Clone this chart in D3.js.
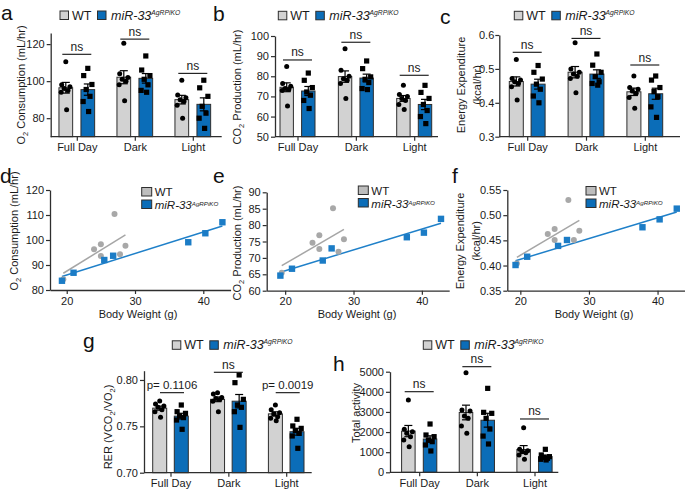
<!DOCTYPE html>
<html><head><meta charset="utf-8">
<script src="https://cdn.jsdelivr.net/npm/d3@7"></script>
<style>
html,body{margin:0;padding:0;background:#fff;}
svg{display:block;}
</style></head><body>
<svg id="fig" width="685" height="492"></svg>
<script>
// ---------------- DATA ----------------
const groups = ["Full Day", "Dark", "Light"];
const seriesNames = ["WT", "miR-33"];
const supText = "AgRPiKO";

// (a) O2 consumption, per group: individual mice
const o2WT = [[110.5,98,97,96,95,94,84.5],[120.4,104,102,101,100,98,89.4],[100.5,92.5,91,90,89,87,80]];
const o2KO = [[106.9,103,98.2,95.5,91.8,89,83.6],[113.6,106,103,101,98,95,94],[100.5,96.4,91.8,86.4,82.7,80,74.5]];
// (b) CO2 production
const co2WT = [[84.9,76.4,75,73.9,73.4,73,65.2],[93.7,83,80,78.8,78,76.4,69],[75.5,71,70,69,68,66,63.5]];
const co2KO = [[81.6,78,74.4,72.2,70.6,68,64],[87.6,83.8,79.7,78.5,76.9,73.9,73.4],[75.5,72,69,66,63,60,56.5]];
// (c) Energy expenditure
const eeWT = [[0.528,0.472,0.467,0.462,0.457,0.447,0.408],[0.577,0.50,0.49,0.485,0.478,0.472,0.43],[0.479,0.445,0.44,0.435,0.428,0.416,0.384]];
const eeKO = [[0.51,0.49,0.47,0.455,0.44,0.42,0.40],[0.544,0.511,0.49,0.477,0.462,0.457,0.452],[0.479,0.467,0.445,0.433,0.418,0.388,0.357]];
// (g) RER
const rerWT = [[0.7773,0.774,0.772,0.7705,0.768,0.7658,0.7597],[0.7863,0.7849,0.781,0.780,0.779,0.777,0.7658],[0.773,0.768,0.7647,0.7633,0.7604,0.7586,0.7561]];
const rerKO = [[0.773,0.7658,0.764,0.7612,0.7594,0.7568,0.7468],[0.8054,0.7971,0.7791,0.773,0.7705,0.7658,0.7489],[0.7576,0.7504,0.7478,0.7453,0.7424,0.7396,0.7263]];
// (h) Total activity
const actWT = [[3593,2136,2020,1937,1772,1606,1275],[4950,3096,3046,2798,2682,2301,1937],[2219,1142,1076,1026,977,861,646]];
const actKO = [[2400,1854,1772,1606,1523,1358,1060],[4172,2980,2930,2682,2150,1800,1407],[1142,861,778,745,695,646,613]];

// significance annotations (level in data units, label)
const sigA = [114.5, 122.7, 104.2];
const sigB = [88.1, 96.9, 80.5];
const sigC = [0.549, 0.590, 0.5115];
const sigG = [0.7863, 0.8083, 0.7863];
const sigH = [4006, 5249, 2650];
const nsLabels = ["ns", "ns", "ns"];
const sigGLabels = ["p= 0.1106", "ns", "p= 0.0019"];

// (d,e,f) body weight regressions
const bodyWT = [19.5, 24.0, 25.0, 25.0, 27.0, 27.8, 28.6];
const bodyKO = [19.3, 21.0, 25.5, 26.8, 37.8, 40.3, 42.8];
const o2BwWT = [84.3, 96.3, 98.3, 93.6, 110.4, 94.3, 97.7];
const o2BwKO = [83.7, 86.9, 92.0, 93.7, 99.1, 102.7, 107.1];
const co2BwWT = [65.5, 74.6, 76.9, 72.7, 85.1, 71.9, 75.7];
const co2BwKO = [64.6, 66.7, 69.2, 72.9, 76.3, 77.7, 81.9];
const eeBwWT = [0.404, 0.4626, 0.4725, 0.4507, 0.530, 0.4507, 0.469];
const eeBwKO = [0.401, 0.4175, 0.439, 0.4507, 0.476, 0.4917, 0.513];

// tick values
const ticksA = [80, 100, 120];
const ticksB = [50, 60, 70, 80, 90, 100];
const ticksC = [0.3, 0.4, 0.5, 0.6];
const ticksG = [0.70, 0.75, 0.80];
const ticksH = [0, 1000, 2000, 3000, 4000, 5000];
const ticksD = [80, 90, 100, 110, 120];
const ticksE = [60, 65, 70, 75, 80, 85, 90];
const ticksF = [0.35, 0.40, 0.45, 0.50, 0.55];
const ticksBW = [20, 30, 40];

// ---------------- STYLE ----------------
const FONT = "'Liberation Sans', Arial, Helvetica, sans-serif";
const AX = "#2e2e2e";
const WT_FILL = "#d2d2d2", KO_FILL = "#0b6db8";
const WT_PT = "#a8a8a8", KO_PT = "#1b7cc6";
const WT_LINE = "#a6a6a6", KO_LINE = "#1f80c9";
const jitter = [0, -0.3, 0.3, -0.12, 0.16, -0.34, 0.06];

const svg = d3.select("#fig").attr("font-family", FONT);

function rich(textSel, parts, size) {
  let prevSub = false;
  parts.forEach(p => {
    const sub = Array.isArray(p);
    const str = sub ? p[0] : p;
    const t = textSel.append("tspan").text(str);
    if (sub) { t.attr("font-size", size * 0.68).attr("dy", 3); prevSub = true; }
    else if (prevSub) { t.attr("dy", -3); prevSub = false; }
  });
}

function yLabel(x, y, parts, size) {
  const t = svg.append("text")
    .attr("transform", `translate(${x},${y}) rotate(-90)`)
    .attr("text-anchor", "middle").attr("font-size", size).attr("fill", "#1a1a1a");
  rich(t, parts, size);
}

function panelLabel(txt, x, y) {
  svg.append("text").attr("x", x).attr("y", y).attr("font-size", 21).attr("fill", "#111").text(txt);
}

function koText(sel, size, raise) {
  sel.append("tspan").attr("font-style", "italic").text(seriesNames[1]);
  sel.append("tspan").attr("font-style", "italic").attr("font-size", size * 0.54).attr("dy", -raise).text(supText);
}

function barLegend(lx, ly) {
  const g = svg.append("g");
  g.append("rect").attr("x", lx).attr("y", ly - 8.5).attr("width", 8.5).attr("height", 8.5)
    .attr("fill", WT_FILL).attr("stroke", AX).attr("stroke-width", 1);
  g.append("text").attr("x", lx + 12).attr("y", ly).attr("font-size", 12.5).attr("fill", "#1a1a1a").text(seriesNames[0]);
  g.append("rect").attr("x", lx + 37.5).attr("y", ly - 8.5).attr("width", 8.5).attr("height", 8.5)
    .attr("fill", KO_FILL).attr("stroke", AX).attr("stroke-width", 1);
  koText(g.append("text").attr("x", lx + 51).attr("y", ly).attr("font-size", 12.5).attr("fill", "#1a1a1a"), 12.5, 5);
}

function styleAxis(ax) {
  ax.selectAll("path.domain").attr("stroke", AX).attr("stroke-width", 1.3);
  ax.selectAll(".tick line").attr("stroke", AX).attr("stroke-width", 1.2);
  ax.selectAll(".tick text").attr("fill", "#1a1a1a").attr("font-size", 11).attr("font-family", FONT);
  ax.attr("font-family", FONT);
}

function barPanel(cfg) {
  const g = svg.append("g");
  const x = d3.scalePoint().domain(groups).range(cfg.centers);
  const y = d3.scaleLinear().domain(cfg.yDomain).range(cfg.yRange);
  const bottom = cfg.yRange[0];
  const data = [cfg.wt, cfg.ko];
  const fills = [WT_FILL, KO_FILL];
  const offs = [-cfg.off, cfg.off];
  const bw = cfg.bw;

  groups.forEach((grp, gi) => {
    data.forEach((ser, si) => {
      const vals = ser[gi];
      const m = d3.mean(vals);
      const sem = d3.deviation(vals) / Math.sqrt(vals.length);
      const cx = x(grp) + offs[si];
      g.append("rect").attr("x", cx - bw / 2).attr("y", y(m)).attr("width", bw).attr("height", bottom - y(m))
        .attr("fill", fills[si]).attr("stroke", AX).attr("stroke-width", 1);
      vals.forEach((v, k) => {
        const px = cx + jitter[k % jitter.length] * bw;
        if (si === 0) g.append("circle").attr("cx", px).attr("cy", y(v)).attr("r", 2.5).attr("fill", "#000");
        else g.append("rect").attr("x", px - 2.6).attr("y", y(v) - 2.6).attr("width", 5.2).attr("height", 5.2).attr("fill", "#000");
      });
      const eb = g.append("g").attr("stroke", "#000").attr("stroke-width", 1.2);
      eb.append("line").attr("x1", cx).attr("x2", cx).attr("y1", y(m - sem)).attr("y2", y(m + sem));
      eb.append("line").attr("x1", cx - 4).attr("x2", cx + 4).attr("y1", y(m + sem)).attr("y2", y(m + sem));
      eb.append("line").attr("x1", cx - 4).attr("x2", cx + 4).attr("y1", y(m - sem)).attr("y2", y(m - sem));
    });
    const lab = cfg.sigLabels[gi];
    const isP = lab.startsWith("p");
    const half = isP ? 12 : 14.5;
    const c = x(grp) + (isP ? 1.5 : 0);
    const ly = y(cfg.sig[gi]);
    g.append("line").attr("x1", c - half).attr("x2", c + half).attr("y1", ly).attr("y2", ly)
      .attr("stroke", "#111").attr("stroke-width", 1.1);
    g.append("text").attr("x", c).attr("y", ly - 3.5).attr("text-anchor", "middle")
      .attr("font-size", isP ? 11.5 : 12).attr("fill", "#1a1a1a").text(lab);
  });

  const yAx = g.append("g").attr("transform", `translate(${cfg.axisX[0]},0)`)
    .call(d3.axisLeft(y).tickValues(cfg.yTicks).tickSize(4).tickSizeOuter(0).tickPadding(cfg.pad || 2).tickFormat(d3.format(cfg.fmt)));
  styleAxis(yAx);
  const xAx = g.append("g").attr("transform", `translate(0,${bottom})`)
    .call(d3.axisBottom(x).tickSize(4).tickPadding(3));
  xAx.select("path.domain").attr("d", `M${cfg.axisX[0]},0H${cfg.axisX[1]}`);
  styleAxis(xAx);

  barLegend(cfg.legend[0], cfg.legend[1]);
}

function regression(xs, ys) {
  const mx = d3.mean(xs), my = d3.mean(ys);
  const sxy = d3.sum(xs, (v, i) => (v - mx) * (ys[i] - my));
  const sxx = d3.sum(xs, v => (v - mx) * (v - mx));
  const b = sxy / sxx;
  return v => my + b * (v - mx);
}

function scatterPanel(cfg) {
  const g = svg.append("g");
  const x = d3.scaleLinear().domain(cfg.xDomain).range(cfg.xRange);
  const y = d3.scaleLinear().domain(cfg.yDomain).range(cfg.yRange);
  const sets = [
    { xs: bodyWT, ys: cfg.wt, line: WT_LINE, pt: WT_PT, shape: "c" },
    { xs: bodyKO, ys: cfg.ko, line: KO_LINE, pt: KO_PT, shape: "s" }
  ];
  sets.forEach(s => {
    const f = regression(s.xs, s.ys);
    const x0 = d3.min(s.xs), x1 = d3.max(s.xs);
    g.append("line").attr("x1", x(x0)).attr("x2", x(x1)).attr("y1", y(f(x0))).attr("y2", y(f(x1)))
      .attr("stroke", s.line).attr("stroke-width", 1.5);
  });
  sets.forEach(s => {
    s.xs.forEach((v, i) => {
      if (s.shape === "c") g.append("circle").attr("cx", x(v)).attr("cy", y(s.ys[i])).attr("r", 3).attr("fill", s.pt);
      else g.append("rect").attr("x", x(v) - 3.2).attr("y", y(s.ys[i]) - 3.2).attr("width", 6.4).attr("height", 6.4).attr("fill", s.pt);
    });
  });
  const yAx = g.append("g").attr("transform", `translate(${cfg.xRange[0]},0)`)
    .call(d3.axisLeft(y).tickValues(cfg.yTicks).tickSize(4).tickSizeOuter(0).tickPadding(2).tickFormat(d3.format(cfg.fmt)));
  styleAxis(yAx);
  const xAx = g.append("g").attr("transform", `translate(0,${cfg.yRange[0]})`)
    .call(d3.axisBottom(x).tickValues(ticksBW).tickSize(4).tickSizeOuter(0).tickPadding(3).tickFormat(d3.format("d")));
  styleAxis(xAx);
  svg.append("text").attr("x", cfg.xlab[0]).attr("y", cfg.xlab[1]).attr("text-anchor", "middle")
    .attr("font-size", 11).attr("fill", "#1a1a1a").text("Body Weight (g)");
  const [sx, sy] = cfg.legend;
  const lg = svg.append("g");
  lg.append("rect").attr("x", sx).attr("y", sy).attr("width", 10).attr("height", 8.5)
    .attr("fill", "#bdbdbd").attr("stroke", AX).attr("stroke-width", 1);
  lg.append("rect").attr("x", sx).attr("y", sy + 12.5).attr("width", 10).attr("height", 8.5)
    .attr("fill", KO_FILL).attr("stroke", AX).attr("stroke-width", 1);
  lg.append("text").attr("x", sx + 13).attr("y", sy + 8.6).attr("font-size", 11.5).attr("fill", "#1a1a1a").text(seriesNames[0]);
  koText(lg.append("text").attr("x", sx + 13).attr("y", sy + 21.6).attr("font-size", 11.5).attr("fill", "#1a1a1a"), 11.5, 2.8);
}

// ---------------- PANELS ----------------
const o2Label = ["O", ["2"], " Consumption (mL/hr)"];
const co2Label = ["CO", ["2"], " Production (mL/hr)"];

barPanel({ wt: o2WT, ko: o2KO, axisX: [50.7, 221.7], centers: [76.8, 192.8], off: 11, bw: 13.7,
  yDomain: [70, 126], yRange: [136.7, 33], yTicks: ticksA, fmt: "d", sig: sigA, sigLabels: nsLabels, legend: [60, 19.5] });
panelLabel("a", 1, 20);
yLabel(25, 85, o2Label, 11);

barPanel({ wt: co2WT, ko: co2KO, axisX: [275, 438], centers: [297.5, 414.2], off: 10.8, bw: 13.4,
  yDomain: [50, 100], yRange: [136.7, 36], yTicks: ticksB, fmt: "d", sig: sigB, sigLabels: nsLabels, legend: [278.3, 19.8] });
panelLabel("b", 213, 21);
yLabel(241, 87, co2Label, 11);

barPanel({ wt: eeWT, ko: eeKO, axisX: [499.3, 680], centers: [527.2, 644.8], off: 10.9, bw: 14,
  yDomain: [0.3, 0.6], yRange: [136.7, 35], yTicks: ticksC, fmt: ".1f", sig: sigC, sigLabels: nsLabels, legend: [514.3, 19.8], pad: 1 });
panelLabel("c", 440, 24);
yLabel(465, 85, ["Energy Expenditure"], 11);
yLabel(480.5, 85, ["(kcal/hr)"], 11);

scatterPanel({ wt: o2BwWT, ko: o2BwKO, xDomain: [17.55, 44], xRange: [50, 230.6], yDomain: [80, 120], yRange: [290, 190],
  yTicks: ticksD, fmt: "d", legend: [141.7, 187.5], xlab: [138, 318] });
panelLabel("d", 0, 183);
yLabel(18, 231, o2Label, 11);

scatterPanel({ wt: co2BwWT, ko: co2BwKO, xDomain: [17.3, 44], xRange: [266.7, 449.2], yDomain: [60, 90], yRange: [290.7, 192.3],
  yTicks: ticksE, fmt: "d", legend: [358.3, 186], xlab: [357, 318] });
panelLabel("e", 213, 183);
yLabel(241, 243, co2Label, 11);

scatterPanel({ wt: eeBwWT, ko: eeBwKO, xDomain: [18.1, 44], xRange: [507.3, 685], yDomain: [0.35, 0.55], yRange: [290.7, 190],
  yTicks: ticksF, fmt: ".2f", legend: [586, 186.5], xlab: [594, 318] });
panelLabel("f", 452, 183);
yLabel(464, 241, ["Energy Expenditure"], 11);
yLabel(480, 241, ["(kcal/hr)"], 11);

barPanel({ wt: rerWT, ko: rerKO, axisX: [144, 311.7], centers: [170.5, 286.2], off: 10.8, bw: 14,
  yDomain: [0.70, 0.81], yRange: [472.7, 370.7], yTicks: ticksG, fmt: ".2f", sig: sigG, sigLabels: sigGLabels, legend: [172.3, 349.3] });
panelLabel("g", 83, 348);
yLabel(112, 427, ["RER (VCO", ["2"], "/VO", ["2"], ")"], 11);

barPanel({ wt: actWT, ko: actKO, axisX: [390, 558.3], centers: [419.2, 534.5], off: 10.85, bw: 13.5,
  yDomain: [0, 5000], yRange: [472.3, 371.7], yTicks: ticksH, fmt: "d", sig: sigH, sigLabels: nsLabels, legend: [423.3, 349.3] });
panelLabel("h", 333, 371);
yLabel(360, 413, ["Total activity"], 11);
</script>
</body></html>
